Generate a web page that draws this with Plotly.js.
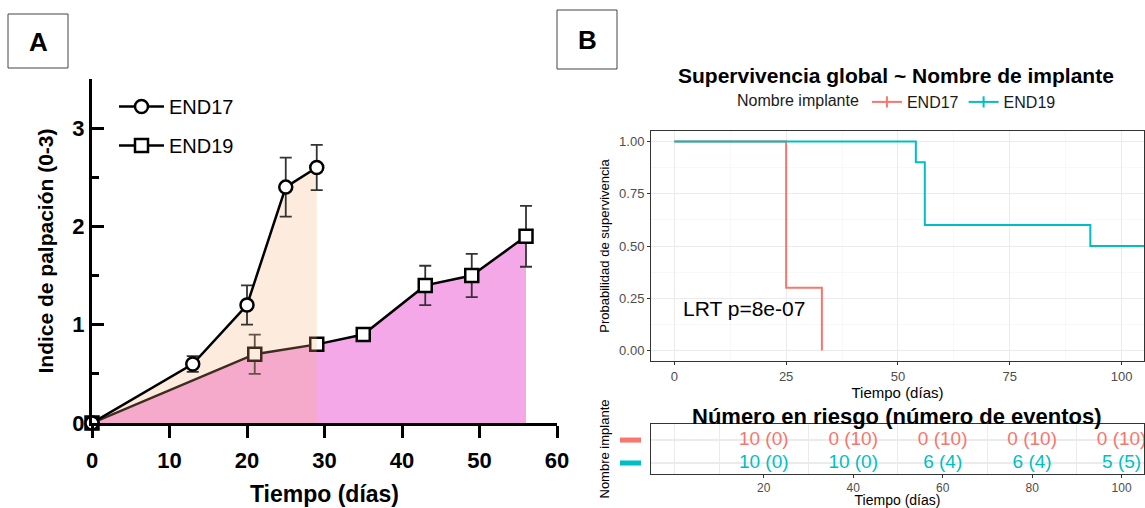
<!DOCTYPE html>
<html>
<head>
<meta charset="utf-8">
<script src="https://cdn.plot.ly/plotly-3.0.1.min.js"></script>
<style>
html,body{margin:0;padding:0;background:#fff;}
#chart{width:1145px;height:508px;}
</style>
</head>
<body>
<div id="chart"></div>
<script>
// ---------- Panel A data: palpation index ----------
const daysEnd17 = [0, 13, 20, 25, 29];
const scoreEnd17 = [0, 0.6, 1.2, 2.4, 2.6];
const errEnd17 = [null, 0.08, 0.2, 0.3, 0.23];

const daysEnd19 = [0, 21, 29, 35, 43, 49, 56];
const scoreEnd19 = [0, 0.7, 0.8, 0.9, 1.4, 1.5, 1.9];
const errEnd19 = [null, 0.2, 0.05, 0.05, 0.2, 0.22, 0.31];

// ---------- Panel B data: Kaplan-Meier ----------
const kmTimeEnd17 = [0, 25, 33];
const kmSurvEnd17 = [1, 0.3, 0];
const kmTimeEnd19 = [0, 54, 56, 93, 105];
const kmSurvEnd19 = [1, 0.9, 0.6, 0.5, 0.5];

// ---------- Risk table ----------
const riskTimes = [20, 40, 60, 80, 100];
const riskEnd17 = ['10 (0)', '0 (10)', '0 (10)', '0 (10)', '0 (10)'];
const riskEnd19 = ['10 (0)', '10 (0)', '6 (4)', '6 (4)', '5 (5)'];
const groupNames = ['END17', 'END19'];
const groupColors = ['#F8766D', '#00BFC4'];
const rowPos = [2, 1];

const FONT = 'Liberation Sans, Arial, sans-serif';
const W = 1145, H = 508;
const px = v => v / W;
const py = v => (H - v) / H;

const errStyle = {type: 'data', visible: true, thickness: 1.8, width: 6, color: '#333'};

const traces = [
  // END19 fill (pink)
  {
    x: daysEnd19, y: scoreEnd19, xaxis: 'x', yaxis: 'y',
    mode: 'none', fill: 'tozeroy', fillcolor: 'rgb(245,168,232)',
    showlegend: false, hoverinfo: 'skip'
  },
  // END19 line with markers
  {
    x: daysEnd19, y: scoreEnd19, xaxis: 'x', yaxis: 'y',
    name: 'END19', legendgroup: 'g19', legendrank: 2,
    mode: 'lines+markers',
    line: {color: '#000', width: 2.5},
    marker: {symbol: 'square', size: 13, color: '#fff', line: {color: '#000', width: 2.5}},
    error_y: Object.assign({array: errEnd19}, errStyle),
    cliponaxis: false
  },
  // END17 translucent fill
  {
    x: daysEnd17, y: scoreEnd17, xaxis: 'x', yaxis: 'y',
    mode: 'none', fill: 'tozeroy', fillcolor: 'rgba(247,175,120,0.25)',
    showlegend: false, hoverinfo: 'skip'
  },
  // END17 line with markers
  {
    x: daysEnd17, y: scoreEnd17, xaxis: 'x', yaxis: 'y',
    name: 'END17', legendgroup: 'g17', legendrank: 1,
    mode: 'lines+markers',
    line: {color: '#000', width: 2.5},
    marker: {symbol: 'circle', size: 13, color: '#fff', line: {color: '#000', width: 2.5}},
    error_y: Object.assign({array: errEnd17}, errStyle),
    cliponaxis: false
  },
  // KM curves
  {
    x: kmTimeEnd17, y: kmSurvEnd17, xaxis: 'x2', yaxis: 'y2',
    mode: 'lines', line: {shape: 'hv', color: groupColors[0], width: 2},
    showlegend: false
  },
  {
    x: kmTimeEnd19, y: kmSurvEnd19, xaxis: 'x2', yaxis: 'y2',
    mode: 'lines', line: {shape: 'hv', color: groupColors[1], width: 2},
    showlegend: false
  },
  // legend entries for panel B
  {
    x: [null], y: [null], xaxis: 'x2', yaxis: 'y2', legend: 'legend2',
    name: groupNames[0], mode: 'lines+markers',
    line: {color: groupColors[0], width: 2},
    marker: {symbol: 'line-ns-open', size: 8, color: groupColors[0], line: {color: groupColors[0], width: 2}}
  },
  {
    x: [null], y: [null], xaxis: 'x2', yaxis: 'y2', legend: 'legend2',
    name: groupNames[1], mode: 'lines+markers',
    line: {color: groupColors[1], width: 2},
    marker: {symbol: 'line-ns-open', size: 8, color: groupColors[1], line: {color: groupColors[1], width: 2}}
  },
  // risk table rows
  {
    x: riskTimes, y: riskTimes.map(() => rowPos[0]), text: riskEnd17,
    xaxis: 'x3', yaxis: 'y3', mode: 'text', showlegend: false,
    textfont: {family: FONT, size: 19, color: groupColors[0]}, cliponaxis: false
  },
  {
    x: riskTimes, y: riskTimes.map(() => rowPos[1]), text: riskEnd19,
    xaxis: 'x3', yaxis: 'y3', mode: 'text', showlegend: false,
    textfont: {family: FONT, size: 19, color: groupColors[1]}, cliponaxis: false
  }
];

const bAxisFont = {family: FONT, size: 13, color: '#4d4d4d'};

const layout = {
  width: W, height: H,
  margin: {l: 0, r: 0, t: 0, b: 0},
  paper_bgcolor: '#fff', plot_bgcolor: 'rgba(0,0,0,0)',
  font: {family: FONT, color: '#000'},
  showlegend: true,
  legend: {
    x: px(114), y: py(87), xanchor: 'left', yanchor: 'top',
    bgcolor: 'rgba(0,0,0,0)', font: {family: FONT, size: 20, color: '#000'},
    tracegroupgap: 10, itemsizing: 'trace', itemwidth: 45
  },
  legend2: {
    orientation: 'h', x: px(735), y: py(102), xanchor: 'left', yanchor: 'middle',
    bgcolor: 'rgba(0,0,0,0)', font: {family: FONT, size: 16, color: '#1a1a1a'},
    title: {text: 'Nombre implante', side: 'left', font: {family: FONT, size: 16, color: '#1a1a1a'}}
  },
  // Panel A
  xaxis: {
    domain: [px(92), px(557)], anchor: 'y', range: [0, 60],
    tickmode: 'linear', tick0: 0, dtick: 10,
    ticks: 'outside', ticklen: 12, tickwidth: 3, tickcolor: '#000',
    showline: true, linewidth: 3, linecolor: '#000',
    showgrid: false, zeroline: false, ticklabelstandoff: 4,
    tickfont: {family: FONT, size: 22, color: '#000', weight: 'bold'},
    title: {text: 'Tiempo (días)', standoff: 14, font: {family: FONT, size: 23, color: '#000', weight: 'bold'}},
    automargin: false
  },
  yaxis: {
    domain: [py(423), py(79)], anchor: 'x', range: [0, 3.5],
    tickmode: 'linear', tick0: 0, dtick: 1,
    ticks: 'inside', ticklen: 12, tickwidth: 3, tickcolor: '#000',
    minor: {ticks: 'inside', ticklen: 7, tickwidth: 3, tickcolor: '#000', dtick: 0.5, tick0: 0, showgrid: false},
    showline: true, linewidth: 3, linecolor: '#000',
    showgrid: false, zeroline: false,
    tickfont: {family: FONT, size: 22, color: '#000', weight: 'bold'},
    title: {text: 'Indice de palpación (0-3)', standoff: 13, font: {family: FONT, size: 21, color: '#000', weight: 'bold'}},
    automargin: false
  },
  // Panel B main
  xaxis2: {
    domain: [px(651), px(1144)], anchor: 'y2', range: [-5.2, 105],
    tickmode: 'linear', tick0: 0, dtick: 25,
    ticks: 'outside', ticklen: 3, tickwidth: 1, tickcolor: '#333',
    showline: true, mirror: true, linewidth: 1, linecolor: '#333',
    showgrid: true, gridcolor: '#ebebeb', gridwidth: 1,
    minor: {dtick: 12.5, tick0: 0, showgrid: true, gridcolor: '#f4f4f4', gridwidth: 0.6},
    zeroline: false, tickfont: bAxisFont,
    title: {text: 'Tiempo (días)', standoff: 1, font: {family: FONT, size: 15, color: '#000'}},
    automargin: false
  },
  yaxis2: {
    domain: [py(361), py(131)], anchor: 'x2', range: [-0.05, 1.05],
    tickmode: 'linear', tick0: 0, dtick: 0.25, tickformat: '.2f',
    ticks: 'outside', ticklen: 3, tickwidth: 1, tickcolor: '#333',
    showline: true, mirror: true, linewidth: 1, linecolor: '#333',
    showgrid: true, gridcolor: '#ebebeb', gridwidth: 1,
    minor: {dtick: 0.125, tick0: 0, showgrid: true, gridcolor: '#f4f4f4', gridwidth: 0.6},
    zeroline: false, tickfont: bAxisFont,
    title: {text: 'Probabilidad de supervivencia', standoff: 6, font: {family: FONT, size: 13, color: '#000'}},
    automargin: false
  },
  // Risk table
  xaxis3: {
    domain: [px(651), px(1144)], anchor: 'y3', range: [-5.2, 105],
    tickmode: 'array', tickvals: riskTimes,
    ticks: 'outside', ticklen: 3, tickwidth: 1, tickcolor: '#333',
    showline: true, mirror: true, linewidth: 1, linecolor: '#333',
    showgrid: false,
    minor: {tickmode: 'array', tickvals: [0, 10, 30, 50, 70, 90], showgrid: true, gridcolor: '#ebebeb', gridwidth: 1},
    zeroline: false, tickfont: {family: FONT, size: 12, color: '#4d4d4d'},
    title: {text: 'Tiempo (días)', standoff: 3, font: {family: FONT, size: 14, color: '#000'}},
    automargin: false
  },
  yaxis3: {
    domain: [py(474), py(424)], anchor: 'x3', range: [0.52, 2.7],
    tickmode: 'array', tickvals: rowPos, showticklabels: false, ticks: '',
    showline: true, mirror: true, linewidth: 1, linecolor: '#333',
    showgrid: true, gridcolor: '#ebebeb', gridwidth: 1.5, zeroline: false,
    title: {text: 'Nombre implante', standoff: 37, font: {family: FONT, size: 13, color: '#000'}},
    automargin: false
  },
  shapes: [
    {type: 'rect', xref: 'paper', yref: 'paper', x0: px(8), x1: px(68), y0: py(68), y1: py(14), line: {color: '#444', width: 1}},
    {type: 'rect', xref: 'paper', yref: 'paper', x0: px(557), x1: px(617), y0: py(69), y1: py(10), line: {color: '#444', width: 1}},
    {type: 'rect', xref: 'paper', yref: 'y3', x0: px(620), x1: px(641), y0: rowPos[0] - 0.11, y1: rowPos[0] + 0.11, fillcolor: groupColors[0], line: {width: 0}},
    {type: 'rect', xref: 'paper', yref: 'y3', x0: px(620), x1: px(641), y0: rowPos[1] - 0.11, y1: rowPos[1] + 0.11, fillcolor: groupColors[1], line: {width: 0}}
  ],
  annotations: [
    {text: 'A', xref: 'paper', yref: 'paper', x: px(38), y: py(42), xanchor: 'center', yanchor: 'middle', showarrow: false,
     font: {family: FONT, size: 26, color: '#000', weight: 'bold'}},
    {text: 'B', xref: 'paper', yref: 'paper', x: px(587), y: py(40), xanchor: 'center', yanchor: 'middle', showarrow: false,
     font: {family: FONT, size: 26, color: '#000', weight: 'bold'}},
    {text: 'Supervivencia global ~ Nombre de implante', xref: 'paper', yref: 'paper',
     x: px(896), y: py(76), xanchor: 'center', yanchor: 'middle', showarrow: false,
     font: {family: FONT, size: 21, color: '#000', weight: 'bold'}},
    {text: 'LRT p=8e-07', xref: 'x2', yref: 'y2', x: 1.5, y: 0.2, xanchor: 'left', yanchor: 'middle', showarrow: false,
     font: {family: FONT, size: 21, color: '#000'}},
    {text: 'Número en riesgo (número de eventos)', xref: 'paper', yref: 'paper',
     x: px(897), y: py(416), xanchor: 'center', yanchor: 'middle', showarrow: false,
     font: {family: FONT, size: 22, color: '#000', weight: 'bold'}}
  ]
};

Plotly.newPlot('chart', traces, layout, {displayModeBar: false, staticPlot: true});
</script>
</body>
</html>
